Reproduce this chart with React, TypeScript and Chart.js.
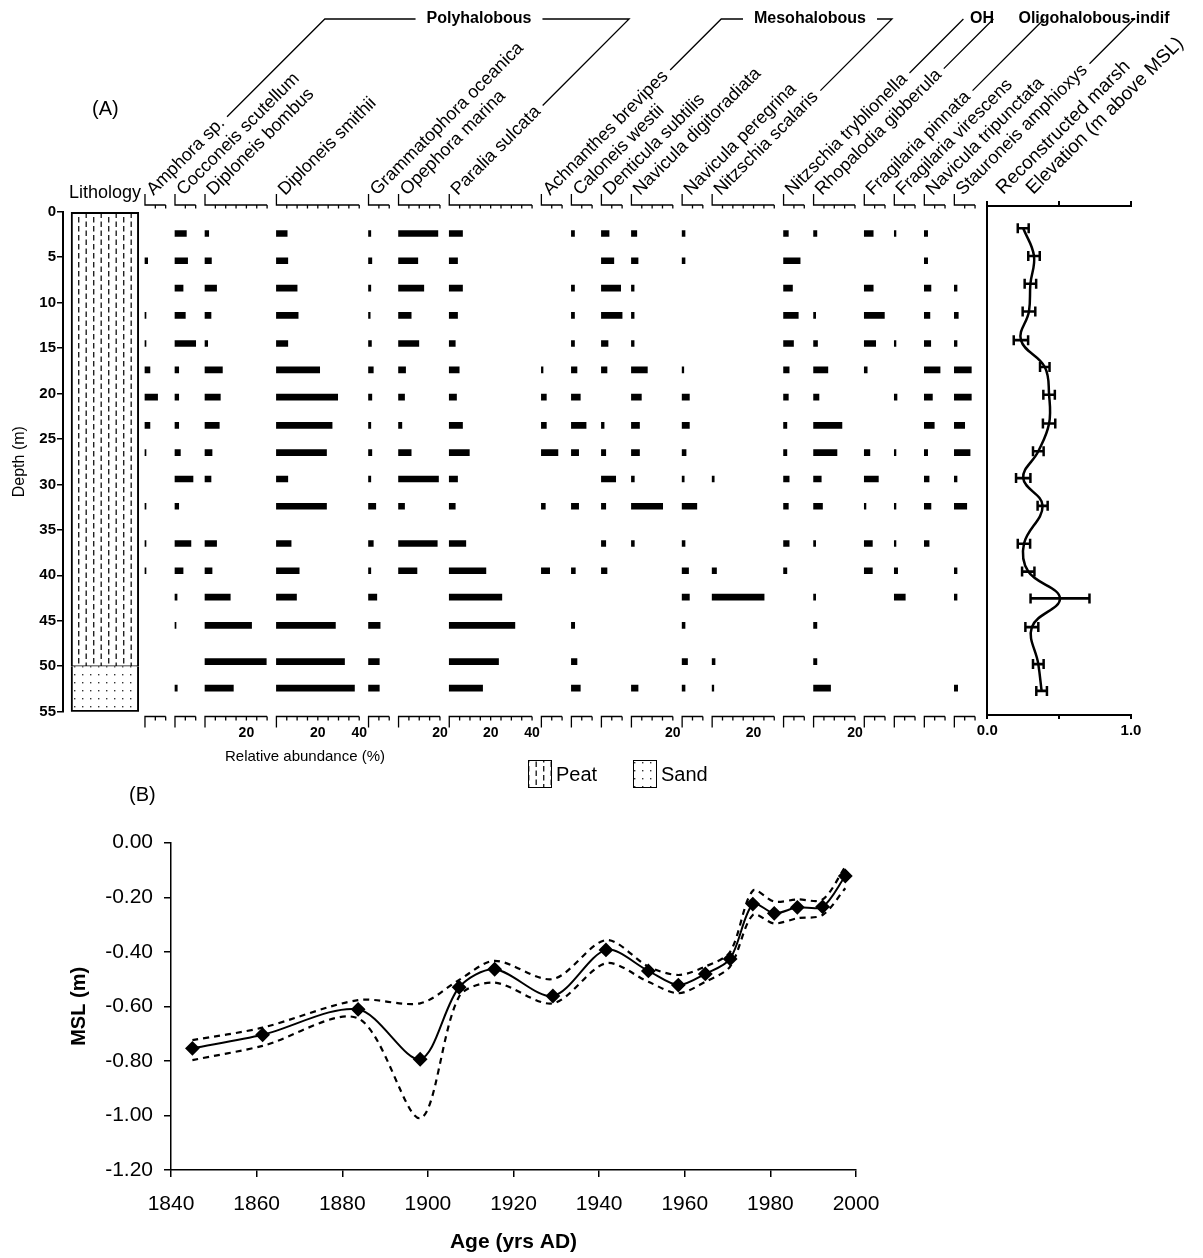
import React, { useEffect, useRef } from "react";
import { Chart, registerables } from "chart.js";

Chart.register(...registerables);

const FONT = '"Liberation Sans", Arial, Helvetica, sans-serif';
Chart.defaults.font.family = FONT;
Chart.defaults.color = "#000";

/* ---------- core samples ---------- */
const sampleDepths = [2.4, 5.4, 8.4, 11.4, 14.5, 17.4, 20.4, 23.5, 26.5, 29.4, 32.4, 36.5, 39.5, 42.4, 45.5, 49.5, 52.4];

/* relative abundance (%) of each taxon, from the top sample down */
const amphoraSp = [0, 1.3, 0, 0.5, 0.5, 2.4, 6.1, 2.4, 0.5, 0, 0.5, 0.5, 0.5, 0, 0, 0, 0];
const cocconeisScutellum = [5.5, 6.1, 3.9, 5.0, 10.0, 1.8, 1.8, 1.8, 2.6, 8.7, 1.8, 7.7, 3.9, 1.0, 0.5, 0, 1.1];
const diploneisBombus = [1.8, 3.1, 5.6, 2.9, 1.3, 8.4, 7.4, 6.9, 3.4, 2.9, 0, 5.6, 3.4, 12.2, 22.5, 29.6, 13.7];
const diploneisSmithii = [5.2, 5.5, 10.0, 10.5, 5.5, 20.9, 29.6, 26.9, 24.2, 5.5, 24.2, 7.1, 11.0, 9.7, 28.5, 32.9, 37.7];
const grammatophoraOceanica = [1.1, 1.6, 1.1, 0.8, 1.4, 2.3, 1.6, 1.1, 1.6, 1.1, 3.5, 2.3, 1.1, 4.0, 5.6, 5.2, 5.2];
const opephoraMarina = [19.0, 9.3, 12.2, 6.1, 9.8, 3.4, 2.9, 1.6, 6.1, 19.3, 2.9, 18.7, 8.9, 0, 0, 0, 0];
const paraliaSulcata = [6.4, 4.0, 6.4, 4.0, 2.9, 4.8, 3.5, 6.4, 9.7, 4.0, 2.9, 8.0, 17.7, 25.4, 31.7, 23.8, 16.1];
const achnanthesBrevipes = [0, 0, 0, 0, 0, 0.8, 2.4, 2.4, 8.0, 0, 1.9, 0, 4.0, 0, 0, 0, 0];
const caloneisWestii = [1.5, 0, 1.5, 1.5, 1.5, 2.7, 4.3, 7.1, 3.5, 0, 3.5, 0, 1.9, 0, 1.6, 2.7, 4.3];
const denticulaSubtilis = [3.7, 6.0, 9.3, 10.0, 3.2, 2.7, 0, 1.3, 2.1, 6.9, 2.1, 2.1, 2.7, 0, 0, 0, 0];
const naviculaDigitoradiata = [2.6, 3.2, 1.3, 1.3, 1.3, 7.7, 4.8, 3.9, 3.9, 1.4, 15.1, 1.4, 0, 0, 0, 0, 3.2];
const naviculaPeregrina = [1.4, 1.4, 0, 0, 0, 0.8, 3.5, 3.5, 1.9, 1.0, 7.1, 1.4, 3.1, 3.5, 1.4, 2.6, 1.4];
const nitzschiaScalaris = [0, 0, 0, 0, 0, 0, 0, 0, 0, 1.0, 0, 0, 2.1, 25.1, 0, 1.4, 0.8];
const nitzschiaTryblionella = [2.3, 8.0, 4.3, 7.1, 4.8, 2.7, 2.3, 1.6, 1.6, 2.7, 2.3, 2.7, 1.6, 0, 0, 0, 0];
const rhopalodiaGibberula = [1.6, 0, 0, 1.0, 1.9, 6.9, 2.6, 13.7, 11.3, 3.7, 4.3, 1.0, 0, 1.0, 1.6, 1.6, 8.2];
const fragilariaPinnata = [4.3, 0, 4.3, 9.7, 5.5, 1.4, 0, 0, 2.7, 6.8, 0.8, 3.9, 3.9, 0, 0, 0, 0];
const fragilariaVirescens = [0.8, 0, 0, 0, 0.8, 0, 1.3, 0, 0.8, 0, 0.8, 0.8, 1.6, 5.3, 0, 0, 0];
const naviculaTripunctata = [1.6, 1.6, 3.2, 2.7, 3.1, 7.6, 3.9, 4.8, 1.6, 2.3, 3.2, 2.3, 0, 0, 0, 0, 0];
const stauroneisAmphioxys = [0, 0, 1.3, 1.9, 1.3, 8.2, 8.2, 5.0, 7.6, 1.3, 6.0, 0, 1.3, 1.3, 0, 0, 1.6];

const taxonNames = [
  "Amphora sp.", "Cocconeis scutellum", "Diploneis bombus", "Diploneis smithii",
  "Grammatophora oceanica", "Opephora marina", "Paralia sulcata",
  "Achnanthes brevipes", "Caloneis westii", "Denticula subtilis", "Navicula digitoradiata",
  "Navicula peregrina", "Nitzschia scalaris",
  "Nitzschia tryblionella", "Rhopalodia gibberula",
  "Fragilaria pinnata", "Fragilaria virescens", "Navicula tripunctata", "Stauroneis amphioxys",
];
const taxonValues = [
  amphoraSp, cocconeisScutellum, diploneisBombus, diploneisSmithii,
  grammatophoraOceanica, opephoraMarina, paraliaSulcata,
  achnanthesBrevipes, caloneisWestii, denticulaSubtilis, naviculaDigitoradiata,
  naviculaPeregrina, nitzschiaScalaris,
  nitzschiaTryblionella, rhopalodiaGibberula,
  fragilariaPinnata, fragilariaVirescens, naviculaTripunctata, stauroneisAmphioxys,
];
/* length of each taxon's abundance scale (%) */
const taxonScaleMax = [10, 10, 30, 40, 10, 20, 40, 10, 10, 10, 20, 10, 30, 10, 20, 10, 10, 10, 10];

/* salinity groups: title, first and last taxon index */
const groupTitles = ["Polyhalobous", "Mesohalobous", "OH", "Oligohalobous-indif"];
const groupFirst = [0, 7, 13, 15];
const groupLast = [6, 12, 14, 18];

/* lithology units (depth, m) */
const lithologyNames = ["Peat", "Sand"];
const lithologyTop = [0, 50];
const lithologyBase = [50, 55];

/* reconstructed marsh elevation (m above MSL) and its error, per sample */
const marshElevation = [0.25, 0.325, 0.30, 0.29, 0.234, 0.40, 0.43, 0.43, 0.355, 0.25, 0.385, 0.255, 0.285, 0.506, 0.31, 0.355, 0.378];
const elevationError = [0.038, 0.04, 0.04, 0.044, 0.05, 0.033, 0.04, 0.043, 0.037, 0.05, 0.035, 0.043, 0.043, 0.205, 0.045, 0.037, 0.037];

/* mean sea level reconstruction */
const ageAD = [1845.0, 1861.4, 1883.7, 1898.2, 1907.3, 1915.6, 1929.2, 1941.6, 1951.5, 1958.5, 1964.8, 1970.6, 1975.9, 1980.9, 1986.3, 1992.2, 1997.5];
const mslMean = [-0.754, -0.704, -0.611, -0.794, -0.530, -0.464, -0.562, -0.393, -0.470, -0.522, -0.481, -0.426, -0.225, -0.259, -0.237, -0.235, -0.122];
const mslUpper = [-0.724, -0.678, -0.577, -0.589, -0.503, -0.433, -0.50, -0.357, -0.454, -0.485, -0.454, -0.40, -0.176, -0.216, -0.208, -0.208, -0.088];
const mslLower = [-0.797, -0.745, -0.644, -1.010, -0.564, -0.513, -0.589, -0.442, -0.51, -0.552, -0.51, -0.454, -0.265, -0.296, -0.277, -0.265, -0.167];

/* ---------- layout ---------- */
const PAGE_W = 1203;
const PAGE_H = 1258;
const DEPTH_AXIS_X = 63;
const DEPTH_TOP_Y = 211.7;
const DEPTH_BOTTOM_Y = 711.7;
const PCT_PX = 2.07;
const COL_GAP = 4.5;
const FIRST_COL = 39.6;
const LITH_LEFT = 3.9;
const LITH_RIGHT = 36.6;
const X_MAX = 445;
const COL_TOP_Y = 205;
const COL_BOTTOM_Y = 716.5;
const LABEL_Y = 196;
const LABEL_DX = 8.5;
const GROUP_Y = 19;
const groupTitleX = [479, 810, 982, 1094];
const ELEV_LEFT = 987.3;
const ELEV_RIGHT = 1131;
const ELEV_TOP = 206;
const ELEV_BOTTOM = 715;
const MSL_LEFT = 171;
const MSL_RIGHT = 856;
const MSL_TOP = 842.7;
const MSL_BOTTOM = 1170;

const columnStart: number[] = [];
{
  let acc = FIRST_COL;
  taxonScaleMax.forEach((w) => {
    columnStart.push(acc);
    acc += w + COL_GAP;
  });
}

const UX = Math.SQRT1_2;
const UY = -Math.SQRT1_2;
const NX = -Math.SQRT1_2;
const NY = -Math.SQRT1_2;

function makePeatPattern(): CanvasPattern | string {
  const c = document.createElement("canvas");
  c.width = 15;
  c.height = 18;
  const g = c.getContext("2d");
  if (!g) return "#fff";
  g.fillStyle = "#fff";
  g.fillRect(0, 0, 15, 18);
  g.fillStyle = "#222";
  g.fillRect(3, 1, 1.4, 5.5);
  g.fillRect(3, 10, 1.4, 5.5);
  g.fillRect(10.5, 5.5, 1.4, 5.5);
  g.fillRect(10.5, 14.5, 1.4, 3.5);
  g.fillRect(10.5, 0, 1.4, 2);
  return g.createPattern(c, "repeat") || "#fff";
}

function makeSandPattern(): CanvasPattern | string {
  const c = document.createElement("canvas");
  c.width = 8;
  c.height = 8;
  const g = c.getContext("2d");
  if (!g) return "#fff";
  g.fillStyle = "#fff";
  g.fillRect(0, 0, 8, 8);
  g.fillStyle = "#333";
  g.fillRect(2, 2, 1.4, 1.4);
  return g.createPattern(c, "repeat") || "#fff";
}

function rotatedLabel(ctx: CanvasRenderingContext2D, text: string, ax: number, ay: number) {
  ctx.save();
  ctx.translate(ax, ay);
  ctx.rotate(-Math.PI / 4);
  ctx.fillText(text, 0, 0);
  ctx.restore();
  return ctx.measureText(text).width;
}

export default function App() {
  const coreRef = useRef<HTMLCanvasElement>(null);
  const elevRef = useRef<HTMLCanvasElement>(null);
  const mslRef = useRef<HTMLCanvasElement>(null);

  useEffect(() => {
    const charts: Chart[] = [];
    const patterns = [makePeatPattern(), makeSandPattern()];

    /* ----- panel A: lithology + diatom columns ----- */
    const coreDecor = {
      id: "coreDecor",
      afterDraw(chart: any) {
        const ctx: CanvasRenderingContext2D = chart.ctx;
        const xs = chart.scales.x;
        const px = (v: number) => xs.getPixelForValue(v);
        ctx.save();
        ctx.strokeStyle = "#000";
        ctx.fillStyle = "#000";
        ctx.lineWidth = 1.3;

        // abundance scale bars above and below each column
        taxonScaleMax.forEach((w, i) => {
          const s = columnStart[i];
          const x0 = px(s);
          const x1 = px(s + w);
          ctx.beginPath();
          ctx.moveTo(x0, COL_TOP_Y - 11);
          ctx.lineTo(x0, COL_TOP_Y);
          ctx.lineTo(x1, COL_TOP_Y);
          ctx.moveTo(x0, COL_BOTTOM_Y + 11);
          ctx.lineTo(x0, COL_BOTTOM_Y);
          ctx.lineTo(x1, COL_BOTTOM_Y);
          for (let t = 5; t <= w; t += 5) {
            const x = px(s + t);
            ctx.moveTo(x, COL_TOP_Y);
            ctx.lineTo(x, COL_TOP_Y + 3.5);
            ctx.moveTo(x, COL_BOTTOM_Y);
            ctx.lineTo(x, COL_BOTTOM_Y + 4);
          }
          ctx.stroke();
          ctx.font = `bold 14px ${FONT}`;
          ctx.textAlign = "center";
          ctx.textBaseline = "middle";
          for (let t = 20; t <= w; t += 20) ctx.fillText(String(t), px(s + t), 733);
        });

        // rotated taxon names
        ctx.font = `18px ${FONT}`;
        ctx.textAlign = "left";
        ctx.textBaseline = "alphabetic";
        const ends = taxonNames.map((name, i) => {
          const ax = px(columnStart[i]) + LABEL_DX;
          const w = rotatedLabel(ctx, name, ax, LABEL_Y);
          const d = w + 6;
          return { x: ax + d * UX + 4 * NX, y: LABEL_Y + d * UY + 4 * NY };
        });
        ctx.font = `19px ${FONT}`;
        rotatedLabel(ctx, "Reconstructed marsh", ELEV_LEFT + 16, LABEL_Y - 1);
        rotatedLabel(ctx, "Elevation (m above MSL)", ELEV_LEFT + 46, LABEL_Y - 1);

        // salinity group brackets
        ctx.font = `bold 16px ${FONT}`;
        ctx.textAlign = "center";
        ctx.textBaseline = "middle";
        groupTitles.forEach((title, g) => {
          const cx = groupTitleX[g];
          const tw = ctx.measureText(title).width;
          const tl = cx - tw / 2;
          const tr = cx + tw / 2;
          const L = ends[groupFirst[g]];
          const R = ends[groupLast[g]];
          const lTop = L.x + (L.y - GROUP_Y);
          const rTop = R.x + (R.y - GROUP_Y);
          ctx.beginPath();
          ctx.moveTo(L.x, L.y);
          ctx.lineTo(lTop, GROUP_Y);
          if (lTop < tl - 11) ctx.lineTo(tl - 11, GROUP_Y);
          ctx.moveTo(R.x, R.y);
          ctx.lineTo(rTop, GROUP_Y);
          if (rTop > tr + 11) ctx.lineTo(tr + 11, GROUP_Y);
          ctx.stroke();
          ctx.fillText(title, cx, GROUP_Y);
        });

        // headings
        ctx.textBaseline = "alphabetic";
        ctx.textAlign = "center";
        ctx.font = `18px ${FONT}`;
        ctx.fillText("Lithology", (px(LITH_LEFT) + px(LITH_RIGHT)) / 2, 197.5);
        ctx.font = `20px ${FONT}`;
        ctx.textAlign = "left";
        ctx.fillText("(A)", 92, 115);
        ctx.fillText("(B)", 129, 801);
        ctx.font = `15px ${FONT}`;
        ctx.textAlign = "center";
        ctx.textBaseline = "middle";
        ctx.fillText("Relative abundance (%)", 305, 757);

        // lithology key
        const keyX = [528, 633];
        ctx.font = `20px ${FONT}`;
        ctx.textAlign = "left";
        ctx.textBaseline = "alphabetic";
        ctx.lineWidth = 1;
        lithologyNames.forEach((name, j) => {
          ctx.fillStyle = patterns[j] as any;
          ctx.fillRect(keyX[j], 760, 23, 27);
          ctx.strokeRect(keyX[j] + 0.5, 760.5, 23, 27);
          ctx.fillStyle = "#000";
          ctx.fillText(name, keyX[j] + 28, 781);
        });
        ctx.restore();
      },
    };

    const lithologySets = lithologyNames.map((name, j) => ({
      type: "bar" as const,
      label: name,
      indexAxis: "x" as const,
      grouped: false,
      barThickness: (LITH_RIGHT - LITH_LEFT) * PCT_PX,
      backgroundColor: patterns[j] as any,
      borderColor: "#000",
      borderSkipped: false as any,
      borderWidth: j === 0 ? { top: 2, left: 2, right: 2, bottom: 1 } : { top: 0, left: 2, right: 2, bottom: 2 },
      data: [{ x: (LITH_LEFT + LITH_RIGHT) / 2, y: [lithologyTop[j], lithologyBase[j]] }],
    }));

    const taxonSets = taxonNames.map((name, i) => ({
      type: "bar" as const,
      label: name,
      indexAxis: "y" as const,
      grouped: false,
      barThickness: 6,
      backgroundColor: "#000",
      borderWidth: 0,
      data: sampleDepths
        .map((d, k) => ({ y: d, x: [columnStart[i], columnStart[i] + taxonValues[i][k]] }))
        .filter((_p, k) => taxonValues[i][k] > 0),
    }));

    if (coreRef.current) {
      charts.push(
        new Chart(coreRef.current, {
          type: "bar",
          data: { datasets: [...lithologySets, ...taxonSets] as any },
          options: {
            responsive: false,
            animation: false,
            events: [],
            layout: {
              padding: {
                left: 0,
                top: DEPTH_TOP_Y,
                right: PAGE_W - DEPTH_AXIS_X - X_MAX * PCT_PX,
                bottom: PAGE_H - DEPTH_BOTTOM_Y,
              },
            },
            plugins: { legend: { display: false }, tooltip: { enabled: false } },
            scales: {
              x: { type: "linear", display: false, min: 0, max: X_MAX, offset: false, grid: { offset: false } },
              y: {
                type: "linear",
                reverse: true,
                min: 0,
                max: 55,
                offset: false,
                afterFit: (s: any) => {
                  s.width = DEPTH_AXIS_X;
                },
                ticks: { stepSize: 5, color: "#000", font: { size: 15, weight: "bold" }, padding: 1, autoSkip: false },
                grid: { display: true, drawOnChartArea: false, tickLength: 6, color: "#000", lineWidth: 1.5, offset: false },
                border: { display: true, color: "#000", width: 2 },
                title: { display: true, text: "Depth (m)", color: "#000", font: { size: 16 }, padding: { top: 10, bottom: 0 } },
              },
            },
          } as any,
          plugins: [coreDecor],
        })
      );
    }

    /* ----- panel A: reconstructed marsh elevation ----- */
    if (elevRef.current) {
      const curve = sampleDepths.map((d, k) => ({ x: marshElevation[k], y: d }));
      const bars = sampleDepths.map((d, k) => ({
        y: d,
        x: [marshElevation[k] - elevationError[k], marshElevation[k] + elevationError[k]],
      }));
      const caps = sampleDepths.flatMap((d, k) => [
        { x: marshElevation[k] - elevationError[k], y: d },
        { x: marshElevation[k] + elevationError[k], y: d },
      ]);
      charts.push(
        new Chart(elevRef.current, {
          type: "line",
          data: {
            datasets: [
              {
                type: "line",
                label: "Elevation",
                indexAxis: "y",
                data: curve,
                borderColor: "#000",
                borderWidth: 2.5,
                tension: 0.4,
                pointRadius: 0,
                fill: false,
              },
              {
                type: "bar",
                label: "Error",
                indexAxis: "y",
                grouped: false,
                barThickness: 2,
                backgroundColor: "#000",
                borderWidth: 0,
                data: bars,
              },
              {
                type: "line",
                label: "Error caps",
                showLine: false,
                data: caps,
                pointStyle: "line",
                pointRotation: 90,
                pointRadius: 5,
                pointBorderWidth: 2.5,
                pointBorderColor: "#000",
              },
            ] as any,
          },
          options: {
            responsive: false,
            animation: false,
            events: [],
            layout: {
              padding: { left: ELEV_LEFT, top: ELEV_TOP - 10, right: PAGE_W - ELEV_RIGHT, bottom: PAGE_H - ELEV_BOTTOM - 40 },
            },
            plugins: { legend: { display: false }, tooltip: { enabled: false } },
            scales: {
              x: {
                type: "linear",
                position: "bottom",
                min: 0,
                max: 1,
                offset: false,
                afterFit: (s: any) => {
                  s.height = 40;
                },
                ticks: {
                  stepSize: 0.5,
                  autoSkip: false,
                  maxRotation: 0,
                  padding: 3,
                  color: "#000",
                  font: { size: 15, weight: "bold" },
                  callback: (v: any) => (Number(v) === 0.5 ? "" : Number(v).toFixed(1)),
                },
                grid: { drawOnChartArea: false, tickLength: 4, color: "#000", lineWidth: 2 },
                border: { display: true, color: "#000", width: 2 },
              },
              xTop: {
                type: "linear",
                position: "top",
                min: 0,
                max: 1,
                offset: false,
                afterFit: (s: any) => {
                  s.height = 10;
                },
                ticks: { display: false, stepSize: 0.5 },
                grid: { drawOnChartArea: false, tickLength: 5, color: "#000", lineWidth: 2 },
                border: { display: true, color: "#000", width: 2 },
              },
              y: {
                type: "linear",
                position: "left",
                reverse: true,
                min: 0,
                max: 55,
                offset: false,
                afterFit: (s: any) => {
                  s.width = 0;
                },
                ticks: { display: false },
                grid: { display: false },
                border: { display: true, color: "#000", width: 2 },
              },
            },
          } as any,
        })
      );
    }

    /* ----- panel B: mean sea level ----- */
    if (mslRef.current) {
      const series = (vals: number[]) => ageAD.map((a, k) => ({ x: a, y: vals[k] }));
      charts.push(
        new Chart(mslRef.current, {
          type: "line",
          data: {
            datasets: [
              {
                label: "Upper",
                data: series(mslUpper),
                borderColor: "#000",
                borderWidth: 2.2,
                borderDash: [6, 5],
                pointRadius: 0,
                tension: 0.3,
                fill: false,
              },
              {
                label: "Lower",
                data: series(mslLower),
                borderColor: "#000",
                borderWidth: 2.2,
                borderDash: [6, 5],
                pointRadius: 0,
                tension: 0.3,
                fill: false,
              },
              {
                label: "MSL",
                data: series(mslMean),
                borderColor: "#000",
                borderWidth: 2,
                tension: 0.3,
                pointStyle: "rectRot",
                pointRadius: 6,
                pointBackgroundColor: "#000",
                pointBorderColor: "#000",
                fill: false,
              },
            ],
          },
          options: {
            responsive: false,
            animation: false,
            events: [],
            layout: {
              padding: { left: MSL_LEFT - 110, top: MSL_TOP, right: PAGE_W - MSL_RIGHT, bottom: PAGE_H - MSL_BOTTOM - 85 },
            },
            plugins: { legend: { display: false }, tooltip: { enabled: false } },
            scales: {
              x: {
                type: "linear",
                min: 1840,
                max: 2000,
                afterFit: (s: any) => {
                  s.height = 85;
                },
                ticks: {
                  stepSize: 20,
                  maxRotation: 0,
                  autoSkip: false,
                  padding: 15,
                  color: "#000",
                  font: { size: 21 },
                  callback: (v: any) => String(v),
                },
                grid: { drawOnChartArea: false, tickLength: 7, color: "#000", lineWidth: 1.5 },
                border: { display: true, color: "#000", width: 1.5 },
                title: { display: true, text: "Age (yrs AD)", color: "#000", font: { size: 21, weight: "bold" }, padding: 0 },
              },
              y: {
                type: "linear",
                min: -1.2,
                max: 0,
                afterFit: (s: any) => {
                  s.width = 110;
                },
                ticks: {
                  stepSize: 0.2,
                  padding: 11,
                  color: "#000",
                  font: { size: 21 },
                  callback: (v: any) => Number(v).toFixed(2),
                },
                grid: { drawOnChartArea: false, tickLength: 7, color: "#000", lineWidth: 1.5 },
                border: { display: true, color: "#000", width: 1.5 },
                title: { display: true, text: "MSL (m)", color: "#000", font: { size: 20, weight: "bold" }, padding: { top: 6, bottom: 0 } },
              },
            },
          } as any,
        })
      );
    }

    return () => charts.forEach((c) => c.destroy());
  }, []);

  const layer: React.CSSProperties = { position: "absolute", left: 0, top: 0 };
  return (
    <div style={{ position: "absolute", left: 0, top: 0, width: PAGE_W, height: PAGE_H, background: "#fff" }}>
      <canvas ref={coreRef} width={PAGE_W} height={PAGE_H} style={layer} />
      <canvas ref={elevRef} width={PAGE_W} height={PAGE_H} style={layer} />
      <canvas ref={mslRef} width={PAGE_W} height={PAGE_H} style={layer} />
    </div>
  );
}
